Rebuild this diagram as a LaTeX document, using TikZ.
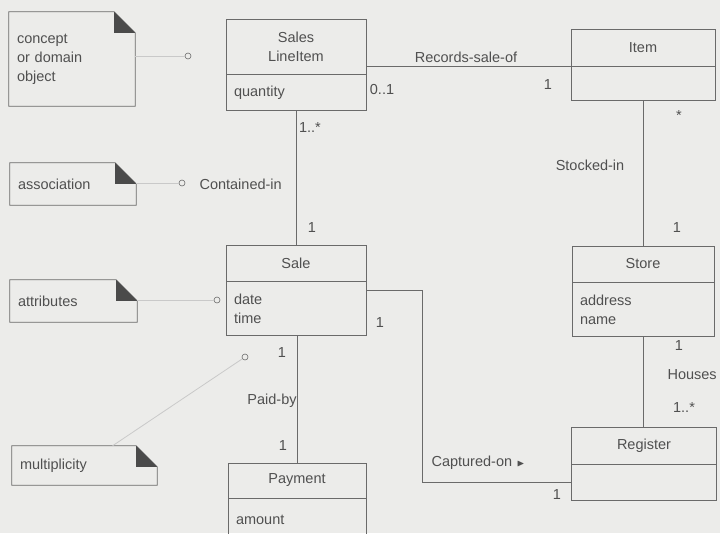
\documentclass[tikz,border=0pt]{standalone}
\usepackage{amssymb}
\usepackage{fontspec}
\setmainfont{Liberation Sans}
\usetikzlibrary{positioning}
\definecolor{scanbg}{HTML}{ECECEA}
\definecolor{umlline}{HTML}{6A6A6A}
\definecolor{umltext}{HTML}{505050}
\definecolor{notelink}{HTML}{C9C9C9}

\begin{document}
\begin{tikzpicture}[x=1pt,y=-1pt,font=\fontsize{14.5}{19}\selectfont,text=umltext,
classhead/.style={draw=umlline,line width=.8pt,minimum width=142pt,minimum height=36pt,align=center,inner sep=0pt},
classbody/.style={draw=umlline,line width=.8pt,minimum height=36pt,text width=126pt,align=left,inner xsep=8pt,inner ysep=0pt},
umlnote/.style={minimum height=42pt,text width=110pt,align=left,inner xsep=8pt,inner ysep=0pt},
notepin/.style={circle,draw=umlline,line width=.6pt,minimum size=6pt,inner sep=0pt},
noteline/.style={notelink,line width=.8pt},
assoc/.style={umlline,line width=.8pt},
mult/.style={inner sep=1pt}]
\fill[scanbg] (0,0) rectangle (720,533);
\useasboundingbox (0,0) rectangle (720,533);
% notes
\node[umlnote,minimum height=94pt] (n1) at (72,59) {concept\\or domain\\object};
\node[umlnote] (n2) at (73,184) {association};
\node[umlnote,text width=111pt] (n3) at (73.5,301) {attributes};
\node[umlnote,minimum height=39pt,text width=129pt] (n4) at (84.5,465.5) {multiplicity};
\foreach \n in {n1,n2,n3,n4}{
  \draw[assoc] (\n.north west) -- ([xshift=-21pt]\n.north east) -- ([yshift=-21pt]\n.north east) -- (\n.south east) -- (\n.south west) -- cycle;
  \fill[umlline!70!black] ([xshift=-21pt]\n.north east) -- ([xshift=-21pt,yshift=-21pt]\n.north east) -- ([yshift=-21pt]\n.north east) -- cycle;
}
% classes
\node[classhead,minimum height=55pt,minimum width=140pt] (slihead) at (296,46.5) {Sales\\LineItem};
\node[classbody,minimum height=36pt,text width=124pt,below=0pt of slihead] (slibody) {quantity};
\node[classhead,minimum height=37pt,minimum width=144pt] (itemhead) at (643,47.5) {Item};
\node[classbody,minimum height=34pt,text width=128pt,below=0pt of itemhead] (itembody) {};
\node[classhead,minimum width=140pt] (salehead) at (296,263) {Sale};
\node[classbody,minimum height=54pt,text width=124pt,below=0pt of salehead] (salebody) {date\\time};
\node[classhead] (storehead) at (643,264) {Store};
\node[classbody,minimum height=54pt,below=0pt of storehead] (storebody) {address\\name};
\node[classhead,minimum height=37pt,minimum width=145pt] (reghead) at (644,445.5) {Register};
\node[classbody,text width=129pt,below=0pt of reghead] (regbody) {};
\node[classhead,minimum height=35pt,minimum width=138pt] (payhead) at (297,480.5) {Payment};
\node[classbody,minimum height=42pt,text width=122pt,below=0pt of payhead] (paybody) {amount};
% associations
\draw[assoc] (itemhead.south west -| slihead.east) -- (itemhead.south west);
\draw[assoc] (slibody.south) -- (slibody.south |- salehead.north);
\draw[assoc] (itembody.south) -- (itembody.south |- storehead.north);
\draw[assoc] (storebody.south) -- (storebody.south |- reghead.north);
\draw[assoc] (payhead.north |- salebody.south) -- (payhead.north);
\coordinate (capbend) at (422,290);
\draw[assoc] (capbend -| salebody.east) -- (capbend) |- (regbody.west);
% association names and multiplicities
\node (recname) at (466,57) {Records-sale-of};
\node[mult] (recmulta) at (382,90) {0..1};
\node[mult] (recmultb) at (548,85) {1};
\node[mult] (conmulta) at (310,128) {1..*};
\node[mult] (conmultb) at (312,228) {1};
\node[anchor=west] (conname) at (196,184) {Contained-in};
\node[mult] (stomulta) at (679,116) {*};
\node (stoname) at (590,165) {Stocked-in};
\node[mult] (stomultb) at (677,228) {1};
\node[mult] (capmulta) at (380,323) {1};
\node[mult] (capmultb) at (557,495) {1};
\node[anchor=west] (capname) at (428,463) {Captured-on\,\,{\fontsize{10}{10}\selectfont$\blacktriangleright$}};
\node[mult] (paymulta) at (282,353) {1};
\node (payname) at (272,401) {Paid-by};
\node[mult] (paymultb) at (283,446) {1};
\node[mult] (houmulta) at (679,346) {1};
\node[anchor=west] (houname) at (664,375) {Houses};
\node[mult] (houmultb) at (684,408) {1..*};
% pins from the notes
\node[notepin] (c1) at (188,56) {};
\node[notepin] (c2) at (182,183) {};
\node[notepin] (c3) at (217,300) {};
\node[notepin] (c4) at (245,357) {};
\draw[noteline] (n1.east |- c1) -- (c1);
\draw[noteline] (n2.east |- c2) -- (c2);
\draw[noteline] (n3.east |- c3) -- (c3);
\draw[noteline] ([xshift=28pt]n4.north) -- (c4);
\end{tikzpicture}
\end{document}
